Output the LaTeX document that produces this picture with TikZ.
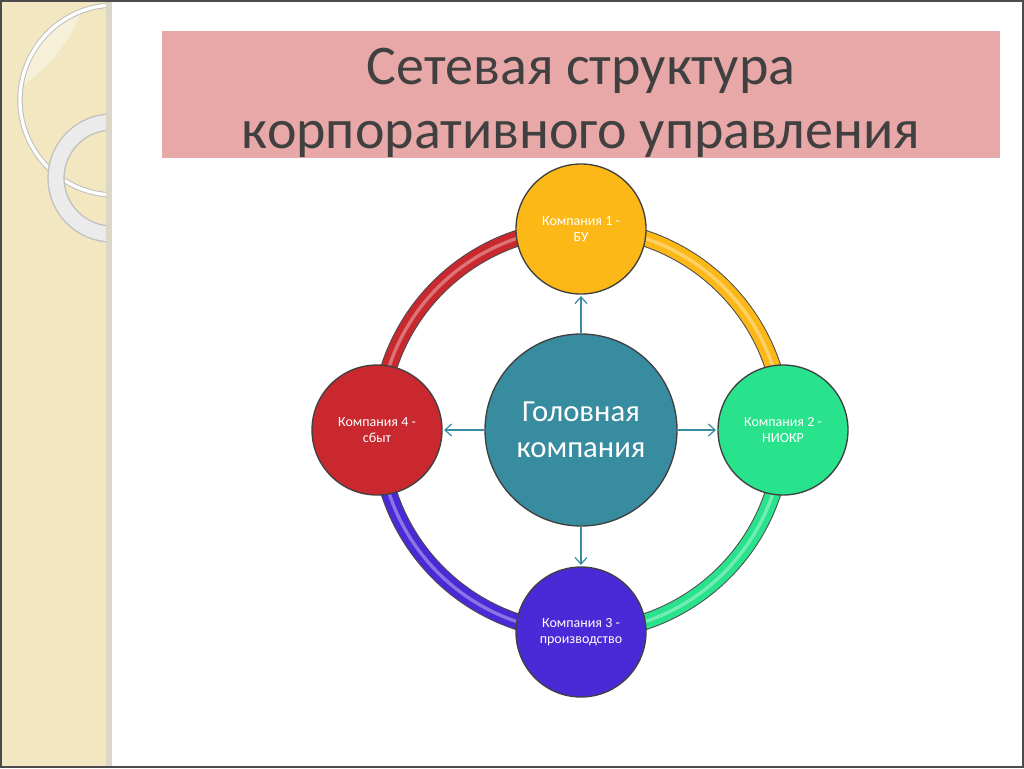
\documentclass[tikz,border=0pt]{standalone}
\usepackage{fontspec}
\setmainfont{Carlito}
\usetikzlibrary{arrows.meta}

\definecolor{stripbeige}{RGB}{243,231,193}
\definecolor{titlepink}{RGB}{232,168,168}
\definecolor{titlegray}{RGB}{64,64,64}
\definecolor{headteal}{RGB}{56,140,160}
\definecolor{compyellow}{RGB}{252,184,22}
\definecolor{compgreen}{RGB}{40,226,140}
\definecolor{compblue}{RGB}{74,42,214}
\definecolor{compred}{RGB}{200,40,46}

\tikzset{every picture/.style={line width=0.75pt}}
\tikzset{
  company/.style={circle, draw=black!75, line width=1pt, minimum size=97.5pt, inner sep=0pt,
    text=white, align=center, font=\fontsize{10.5}{12.5}\selectfont},
  headcomp/.style={company, minimum size=144pt, font=\fontsize{23}{27}\selectfont},
  link/.style={draw=headteal, line width=0.9pt, -{Straight Barb[length=5pt,width=9pt]}, shorten >=1pt},
}
\newcommand{\ringarc}[3]{%
  \draw [black!70, line width=12.5pt] (ring) ++(#1:202) arc[start angle=#1, end angle=#2, radius=202];
  \draw [#3, line width=11pt] (ring) ++(#1:202) arc[start angle=#1, end angle=#2, radius=202];
  \draw [#3!65!white, line width=2.5pt] (ring) ++(#1:202) arc[start angle=#1, end angle=#2, radius=202];
}

\begin{document}
\begin{tikzpicture}[x=0.75pt,y=0.75pt,yscale=-1]
	\useasboundingbox (0,0) rectangle (1024,768);
	\fill [white] (0,0) rectangle (1024,768);

	%Shape: Rectangle [id:left strip]
	\fill [stripbeige] (0,0) rectangle (112,768);
	\fill [black!20, opacity=0.6] (106,0) rectangle (112,768);
	\begin{scope}
	\clip (0,0) rectangle (106,768);
	\begin{scope}
	\clip (115,100) circle (95);
	\fill [white, opacity=0.4] (-60,-40) circle (150);
	\end{scope}
	\draw [black!25, line width=4pt] (115,100) circle (95);
	\draw [white!95!stripbeige, line width=2.5pt] (115,100) circle (95);
	\draw [black!25, line width=13pt] (112,178) circle (56);
	\draw [black!8!white, line width=11pt] (112,178) circle (56);
	\end{scope}
	%Shape: Rectangle [id:frame]
	\draw [black!70, line width=1.2pt] (1,1) rectangle (1023,767);

	%Shape: Rectangle [id:title box]
	\fill [titlepink] (162,31) rectangle (1000,158);
	% Text Node
	\node (title) [text=titlegray, align=center, font=\fontsize{42}{48}\selectfont] at (581,103)
	  {Сетевая структура\\корпоративного управления};

	\coordinate (ring) at (581,430);
	%Ring arcs
	\ringarc{180}{270}{compred}
	\ringarc{270}{360}{compyellow}
	\ringarc{0}{90}{compgreen}
	\ringarc{90}{180}{compblue}

	%Shape: Circle [id:companies]
	\node (head) [headcomp, fill=headteal] at (ring) {Головная\\компания};
	\node (c1) [company, fill=compyellow] at (581,229) {Компания 1 -\\БУ};
	\node (c2) [company, fill=compgreen] at (783,430) {Компания 2 -\\НИОКР};
	\node (c3) [company, fill=compblue] at (581,632) {Компания 3 -\\производство};
	\node (c4) [company, fill=compred] at (377,430) {Компания 4 -\\сбыт};

	%Straight Lines [id:links]
	\draw [link] (head) -- (c1);
	\draw [link] (head) -- (c2);
	\draw [link] (head) -- (c3);
	\draw [link] (head) -- (c4);

\end{tikzpicture}
\end{document}
